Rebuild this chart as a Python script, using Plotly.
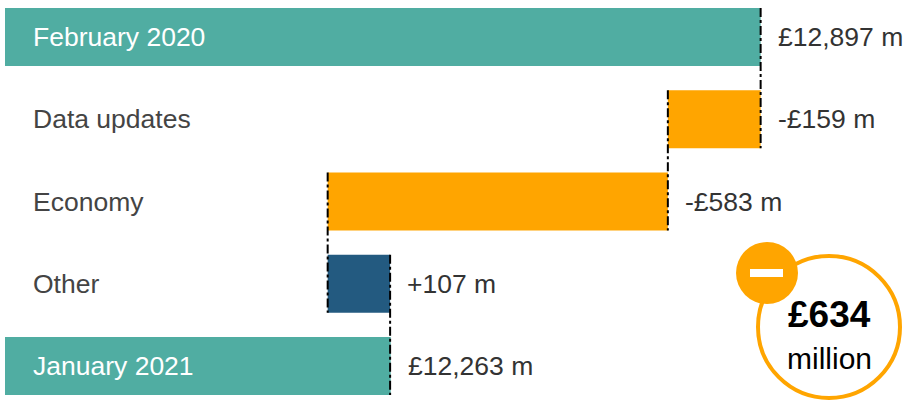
import plotly.graph_objects as go

# ---- data ----
categories = ["February 2020", "Data updates", "Economy", "Other", "January 2021"]
kinds = ["total", "relative", "relative", "relative", "total"]
values = [12897, -159, -583, 107, 12263]
value_labels = ["£12,897 m", "-£159 m", "-£583 m", "+107 m", "£12,263 m"]
total_change_label = "£634"
total_change_unit = "million"

# ---- styling ----
TEAL = "#50ADA2"
ORANGE = "#FFA500"
BLUE = "#235A80"
FONT = "Liberation Sans, Arial, sans-serif"
AXIS_START = 11602
AXIS_END = 13141

W, H = 903, 401
ML, MR, MT, MB = 5, 0, 0, 0

# build waterfall geometry from the data
bases, lengths, colors = [], [], []
running = 0
for k, v in zip(kinds, values):
    if k == "total":
        bases.append(AXIS_START)
        lengths.append(v - AXIS_START)
        running = v
        colors.append(TEAL)
    else:
        start = running
        end = running + v
        bases.append(min(start, end))
        lengths.append(abs(v))
        running = end
        colors.append(ORANGE if v < 0 else BLUE)

fig = go.Figure()
fig.add_trace(go.Bar(
    y=categories, x=lengths, base=bases, orientation="h",
    marker=dict(color=colors, line=dict(width=0)),
    width=0.705, hoverinfo="skip",
))

annotations = []
shapes = []
for i, (cat, k) in enumerate(zip(categories, kinds)):
    right = bases[i] + lengths[i]
    annotations.append(dict(
        x=AXIS_START, y=cat, xref="x", yref="y", xanchor="left", yanchor="middle",
        xshift=26, text=cat, showarrow=False,
        font=dict(family=FONT, size=26.5, color="white" if k == "total" else "#444444"),
    ))
    annotations.append(dict(
        x=right, y=cat, xref="x", yref="y", xanchor="left", yanchor="middle",
        xshift=15, text=value_labels[i], showarrow=False,
        font=dict(family=FONT, size=26.5, color="#333333"),
    ))

# connectors: from end of one bar to start of the next
running = 0
ends = []
for k, v in zip(kinds, values):
    running = v if k == "total" else running + v
    ends.append(running)
for i in range(len(categories) - 1):
    xv = ends[i]
    shapes.append(dict(
        type="line", xref="x", yref="y", x0=xv, x1=xv,
        y0=i - 0.3525, y1=i + 1 + 0.3525,
        line=dict(color="black", width=2, dash="dashdot"), layer="above",
    ))

def px(xp):
    return (xp - ML) / (W - ML - MR)

def py(yp):
    return 1 - (yp - MT) / (H - MT - MB)

# big ring
shapes.append(dict(type="circle", xref="paper", yref="paper",
                   x0=px(758), x1=px(900), y0=py(398), y1=py(256),
                   line=dict(color=ORANGE, width=4), fillcolor="white", layer="above"))
# small minus badge
shapes.append(dict(type="circle", xref="paper", yref="paper",
                   x0=px(736), x1=px(798), y0=py(304), y1=py(242),
                   line=dict(width=0), fillcolor=ORANGE, layer="above"))
shapes.append(dict(type="rect", xref="paper", yref="paper",
                   x0=px(750), x1=px(783), y0=py(277), y1=py(269),
                   line=dict(width=0), fillcolor="white", layer="above"))

annotations.append(dict(x=px(829), y=py(314), xref="paper", yref="paper",
                        text="<b>" + total_change_label + "</b>", showarrow=False,
                        xanchor="center", yanchor="middle",
                        font=dict(family=FONT, size=37, color="black")))
annotations.append(dict(x=px(829), y=py(358), xref="paper", yref="paper",
                        text=total_change_unit, showarrow=False,
                        xanchor="center", yanchor="middle",
                        font=dict(family=FONT, size=30, color="black")))

fig.update_layout(
    width=W, height=H, margin=dict(l=ML, r=MR, t=MT, b=MB),
    paper_bgcolor="white", plot_bgcolor="white", showlegend=False,
    xaxis=dict(range=[AXIS_START, AXIS_END], visible=False, fixedrange=True),
    yaxis=dict(type="category", categoryorder="array", categoryarray=categories,
               range=[4.4255, -0.4498], visible=False, fixedrange=True),
    shapes=shapes, annotations=annotations,
)

fig.write_html("out.html", config={"displayModeBar": False},
               post_script="document.body.style.margin='0';")
